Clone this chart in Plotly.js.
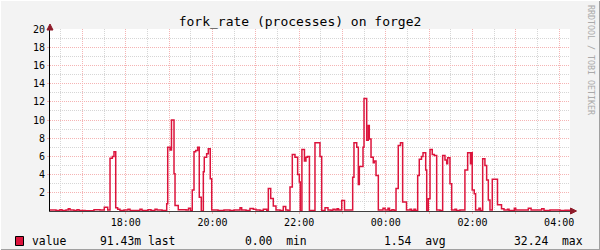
<!DOCTYPE html>
<html>
<head>
<meta charset="utf-8">
<script src="https://cdn.plot.ly/plotly-3.0.1.min.js"></script>
<style>html,body{margin:0;padding:0;background:#F3F3F3;}#chart{width:600px;height:250px;}</style>
</head>
<body>
<div id="chart"></div>
<script>
// ---- data ----
const startTime = '2024-01-01 16:15:00';
const endTime = '2024-01-02 04:15:00';
// minutes after 16:15 at which the sampled value changes
const minutes = [0,8.3,13.8,16.6,22.2,25.3,27.7,33.2,37.4,40.2,48.5,60.9,69.2,75.2,79.9,83.1,86.3,88.6,91.0,93.7,96.9,102.5,108.0,110.8,124.6,127.4,135.7,139.8,145.4,148.2,155.1,161.6,163.0,166.2,168.2,171.7,173.1,177.6,188.3,191.8,194.5,197.0,199.4,201.7,204.5,206.7,209.5,212.3,213.6,216.9,219.2,221.9,223.9,232.6,240.9,249.2,254.8,263.1,265.4,271.4,276.9,281.5,285.2,290.8,295.4,300.1,302.3,305.6,309.2,312.9,318.5,323.0,326.4,329.5,332.3,335.5,339.2,342.9,345.2,346.5,348.8,352.3,354.4,356.4,359.2,366.9,373.8,376.2,380.8,384.9,389.1,391.8,394.6,397.4,399.5,403.9,407.8,419.1,420.9,424.7,426.9,428.3,433.4,434.8,438.5,440.7,442.1,444.5,447.6,449.0,451.4,454.6,461.1,463.9,468.0,470.1,473.5,476.3,479.1,482.2,485.3,488.3,493.6,498.5,500.5,504.0,506.1,509.1,511.3,514.4,516.5,520.2,521.6,523.8,526.2,529.3,532.1,535.4,540.0,543.7,546.9,549.3,550.6,553.8,556.2,560.7,562.8,567.6,574.5,578.3,582.2,583.1,584.6,587.4,589.3,593.9,596.0,599.1,602.2,604.6,606.9,609.2,612.4,619.6,625.2,628.6,633.5,635.6,642.9,644.9,650.8,662.3,666.1,680.8,684.0,692.3,706.2,713.1,720];
const values = [0.1,0.05,0.15,0.05,0.1,0.25,0.1,0.05,0.15,0.05,0.02,0.15,0.1,0.4,0.1,5.8,6.0,6.5,0.35,0.2,0.05,0.1,0.2,0.05,0.2,0.05,0.15,0.05,0.2,0.1,0.05,0.8,7.0,6.7,10.0,4.1,0.6,0.15,0.1,0.3,0.02,2.3,6.5,6.65,7.0,1.5,0.0,4.3,5.9,6.3,6.85,3.55,0.1,0.05,0.1,0.05,0.1,0.37,0.1,0.05,0.27,0.2,0.1,0.05,0.2,0.05,2.46,1.36,0.55,0.1,0.05,0.5,0.1,0.05,2.64,6.2,5.9,4.0,3.2,0.0,6.75,5.5,5.9,6.0,0.05,7.5,6.0,0.05,0.37,0.1,0.05,0.2,0.1,0.25,0.1,1.15,0.1,3.7,7.5,7.0,2.9,4.9,7.0,12.35,7.77,9.4,7.9,5.9,5.3,5.5,3.9,0.1,0.3,0.1,0.3,0.05,0.15,0.05,2.46,7.2,7.5,1.0,0.1,0.2,0.05,0.2,0.05,3.9,5.7,6.0,6.4,4.5,0.05,1.35,6.75,6.2,6.1,0.1,0.05,6.1,5.6,5.2,5.85,3.0,0.1,0.2,0.05,0.1,4.5,6.4,5.2,6.4,2.3,1.9,0.1,0.3,0.05,5.75,5.0,3.4,1.2,0.1,3.5,0.7,0.25,0.1,0.2,0.05,0.3,0.1,0.1,0.3,0.1,0.25,0.05,0.1,0.05,0.09,0.09];
const tickTimes = ['2024-01-01 17:00','2024-01-01 18:00','2024-01-01 19:00','2024-01-01 20:00','2024-01-01 21:00','2024-01-01 22:00','2024-01-01 23:00','2024-01-02 00:00','2024-01-02 01:00','2024-01-02 02:00','2024-01-02 03:00','2024-01-02 04:00'];
const tickLabels = ['','18:00','','20:00','','22:00','','00:00','','02:00','','04:00'];
const yTicks = [2,4,6,8,10,12,14,16,18,20];
const seriesName = 'value';
const statValues = ['91.43m','0.00','1.54','32.24'];
const statLabels = ['last','min','avg','max'];
const titleText = 'fork_rate (processes) on forge2';
const watermark = 'RRDTOOL / TOBI OETIKER';

// ---- build ----
function fmt(m){
  let s = 16*3600 + 15*60 + Math.round(m*60);
  let day = 1 + Math.floor(s/86400); s = s % 86400;
  const p = n => String(n).padStart(2,'0');
  return '2024-01-' + p(day) + ' ' + p(Math.floor(s/3600)) + ':' + p(Math.floor((s%3600)/60)) + ':' + p(s%60);
}
const xs = minutes.map(fmt);

const mono = 'DejaVu Sans Mono, monospace';
const pink = '#F5B4B4', gray = '#D6D6D6';
const px = v => (v - 50) / 520;      // pixel -> paper x
const py = v => (211 - v) / 182;     // pixel -> paper y

const annotations = [
  {text: seriesName, x: px(30), y: py(241), xref:'paper', yref:'paper', xanchor:'left', yanchor:'middle', showarrow:false, font:{family:mono,size:11.4,color:'#000'}},
  {text: watermark, x: px(591), y: py(60), xref:'paper', yref:'paper', xanchor:'center', yanchor:'middle', textangle:90, showarrow:false, font:{family:mono,size:8.3,color:'#AAAAAA'}}
];
const statX = [98, 243, 382, 512];
const gaps = [' ','  ','  ','  '];
statValues.forEach((v,i)=>{
  annotations.push({text: v + gaps[i] + statLabels[i], x: px(statX[i]), y: py(241), xref:'paper', yref:'paper', xanchor:'left', yanchor:'middle', showarrow:false, font:{family:mono,size:11.4,color:'#000'}});
});

const shapes = [
  // legend colour box
  {type:'rect', xref:'paper', yref:'paper', x0:px(15.5), x1:px(23.5), y0:py(245.5), y1:py(236.5), fillcolor:'#DC143C', line:{color:'#000',width:1}},
  // axis arrowheads
  {type:'path', xref:'paper', yref:'paper', path:`M ${px(570.5)} ${py(208)} L ${px(576.5)} ${py(211)} L ${px(570.5)} ${py(214)} Z`, fillcolor:'#8E1B2A', line:{color:'#8E1B2A',width:1}},
  {type:'path', xref:'paper', yref:'paper', path:`M ${px(47)} ${py(30)} L ${px(50)} ${py(24)} L ${px(53)} ${py(30)} Z`, fillcolor:'#8E1B2A', line:{color:'#8E1B2A',width:1}},
  // frame
  {type:'line', xref:'paper', yref:'paper', x0:px(0), x1:px(600), y0:py(249.5), y1:py(249.5), line:{color:'#A0A0A0',width:1}},
  {type:'line', xref:'paper', yref:'paper', x0:px(599.5), x1:px(599.5), y0:py(0), y1:py(250), line:{color:'#A0A0A0',width:1}},
  {type:'line', xref:'paper', yref:'paper', x0:px(0), x1:px(600), y0:py(0.5), y1:py(0.5), line:{color:'#FFFFFF',width:1}},
  {type:'line', xref:'paper', yref:'paper', x0:px(0.5), x1:px(0.5), y0:py(0), y1:py(250), line:{color:'#FFFFFF',width:1}}
];

const trace = {x: xs, y: values, type:'scatter', mode:'lines', line:{shape:'hv', color:'#DC143C', width:1.5}, name: seriesName, hoverinfo:'skip'};

const layout = {
  width:600, height:250,
  margin:{l:50, r:30, t:29, b:39, pad:0},
  paper_bgcolor:'#F3F3F3', plot_bgcolor:'#FFFFFF',
  font:{family:mono, size:10, color:'#000'},
  showlegend:false,
  title:{text:titleText, font:{family:mono, size:13, color:'#000'}, x:0.5, xref:'container', xanchor:'center', y:1-21.5/250, yref:'container', yanchor:'middle'},
  xaxis:{type:'date', range:[startTime, endTime], tickmode:'array', tickvals:tickTimes, ticktext:tickLabels,
    showgrid:true, gridcolor:pink, griddash:'1px,1px', gridwidth:1,
    ticks:'outside', ticklen:2, tickcolor:pink, tickfont:{family:mono,size:10,color:'#000'},
    showline:true, linecolor:'#404040', linewidth:1, zeroline:false, fixedrange:true,
    minor:{dtick:1800000, tick0:'2024-01-01 16:00:00', showgrid:true, gridcolor:gray, griddash:'1px,1px', gridwidth:1}},
  yaxis:{range:[0,20], tickmode:'array', tickvals:yTicks,
    showgrid:true, gridcolor:pink, griddash:'1px,1px', gridwidth:1,
    ticks:'outside', ticklen:2, tickcolor:pink, tickfont:{family:mono,size:10,color:'#000'},
    showline:true, linecolor:'#000000', linewidth:1, zeroline:false, fixedrange:true,
    minor:{dtick:1, tick0:0, showgrid:true, gridcolor:gray, griddash:'1px,1px', gridwidth:1}},
  annotations: annotations,
  shapes: shapes
};

Plotly.newPlot('chart', [trace], layout, {staticPlot:true, displayModeBar:false});
</script>
</body>
</html>
